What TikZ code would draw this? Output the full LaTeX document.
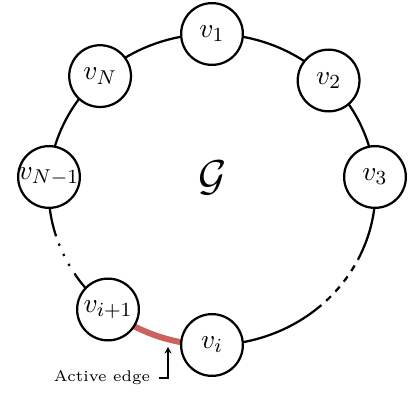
\documentclass[tikz,border=0pt]{standalone}
\usetikzlibrary{arrows.meta}
\definecolor{edgered}{RGB}{201,99,91}
\pgfdeclarelayer{background}
\pgfsetlayers{background,main}
\begin{document}
\begin{tikzpicture}[x=0.4pt,y=0.4pt,
  vert/.style={circle,draw,fill=white,line width=0.9pt,minimum size=24.7pt,inner sep=0pt,
    font=\fontsize{11}{13}\selectfont},
  ring/.style={line width=0.9pt},
  ringarc/.style={x radius=163.5,y radius=155.5},
  activeedge/.style={line width=2.4pt,draw=edgered},
  pointer/.style={line width=1pt,-{Stealth[length=2.6pt,width=2.8pt]}}]
\useasboundingbox (0,0) rectangle (408,395);
% vertices (on an ellipse centred at (212,205.5))
\node[vert] (v1)  at (212,361)     {\makebox[0pt]{$v_1$}};
\node[vert] (v2)  at (328.6,314.5) {\makebox[0pt]{$v_2$}};
\node[vert] (v3)  at (375.0,218.0) {\makebox[0pt]{$v_3$}};
\node[vert] (vi)  at (212,50)      {\makebox[0pt]{$v_i$}};
\node[vert] (vip) at (108.0,85.5)  {\makebox[0pt]{$v_{i+1}$}};
\node[vert] (vNm) at (49.0,218.0)  {\makebox[0pt]{$v_{N-1}$}};
\node[vert] (vN)  at (100.1,318.9) {\makebox[0pt]{$v_N$}};
\node[font=\fontsize{16}{19}\selectfont] (G) at (213,217) {$\mathcal{G}$};
% points where the ring changes style
\coordinate (c1) at (360.8,141.0);
\coordinate (c2) at (318.2,87.3);
\coordinate (d1) at (56.1,158.7);
\coordinate (d2) at (75.7,119.7);
% ring
\begin{pgfonlayer}{background}
\draw[ring] (v1.center) arc[ringarc,start angle=90,end angle=44.5];
\draw[ring] (v2.center) arc[ringarc,start angle=44.5,end angle=4.6];
\draw[ring] (v3.center) arc[ringarc,start angle=4.6,end angle=-24.5];
\draw[ring,dash pattern=on 2.6pt off 2.6pt] (c1) arc[ringarc,start angle=-24.5,end angle=-49.5];
\draw[ring] (c2) arc[ringarc,start angle=-49.5,end angle=-90];
\draw[activeedge] (vi.center) arc[ringarc,start angle=270,end angle=230.5];
\draw[ring] (vip.center) arc[ringarc,start angle=230.5,end angle=213.5];
\draw[ring,dash pattern=on 0.9pt off 3.6pt] (d2) arc[ringarc,start angle=213.5,end angle=197.5];
\draw[ring] (d1) arc[ringarc,start angle=197.5,end angle=175.4];
\draw[ring] (vNm.center) arc[ringarc,start angle=175.4,end angle=133.2];
\draw[ring] (vN.center) arc[ringarc,start angle=133.2,end angle=90];
\end{pgfonlayer}
% annotation
\node[font=\fontsize{6.2}{7.5}\selectfont] (lbl) at (102,17) {Active edge};
\coordinate (tip) at (168,48);
\draw[pointer] (lbl.east) -| (tip);
\end{tikzpicture}
\end{document}
